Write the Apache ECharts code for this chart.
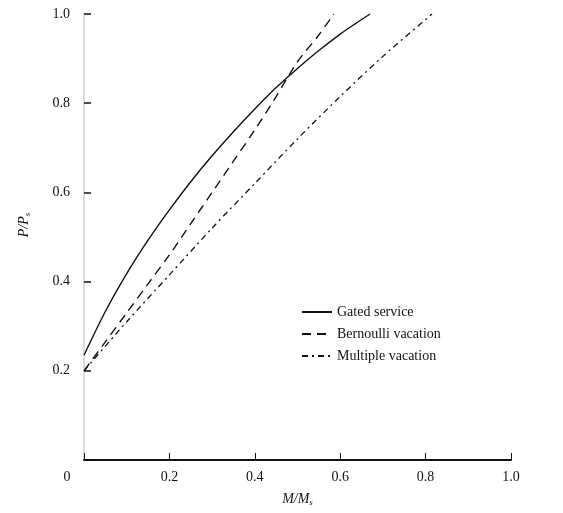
<!DOCTYPE html>
<html>
<head>
<meta charset="utf-8">
<script src="https://cdn.jsdelivr.net/npm/echarts@6/dist/echarts.min.js"></script>
<style>html,body{margin:0;padding:0;background:#fff}#c{width:563px;height:513px}</style>
</head>
<body>
<div id="c"></div>
<script>
var xTicks = [0, 0.2, 0.4, 0.6, 0.8, 1.0];
var yTicks = [0.2, 0.4, 0.6, 0.8, 1.0];
var seriesNames = ['Gated service', 'Bernoulli vacation', 'Multiple vacation'];
var gatedX = [0, 0.05, 0.1, 0.15, 0.2, 0.25, 0.3, 0.35, 0.4, 0.45, 0.5, 0.55, 0.6, 0.635, 0.67];
var gatedY = [0.235, 0.333, 0.418, 0.493, 0.561, 0.624, 0.682, 0.736, 0.787, 0.835, 0.878, 0.918, 0.955, 0.978, 1.0];
var bernX = [0, 0.05, 0.1, 0.15, 0.2, 0.25, 0.3, 0.35, 0.4, 0.45, 0.5, 0.55, 0.585];
var bernY = [0.2, 0.265, 0.33, 0.395, 0.46, 0.53, 0.6, 0.67, 0.74, 0.815, 0.893, 0.953, 1.0];
var multX = [0, 0.1, 0.2, 0.3, 0.4, 0.5, 0.6, 0.7, 0.815];
var multY = [0.2, 0.31, 0.415, 0.52, 0.62, 0.72, 0.815, 0.905, 1.0];

function pairs(xs, ys) { return xs.map(function (x, i) { return [x, ys[i]]; }); }
var font = '"Liberation Serif", "DejaVu Serif", serif';

var chart = echarts.init(document.getElementById('c'), null, {renderer: 'canvas'});
chart.setOption({
  animation: false,
  backgroundColor: '#fff',
  grid: {left: 84, right: 52, top: 14, bottom: 53},
  legend: {
    data: seriesNames,
    orient: 'vertical',
    left: 296, top: 300,
    itemWidth: 30, itemHeight: 10, itemGap: 8,
    itemStyle: {opacity: 0},
    textStyle: {fontFamily: font, fontSize: 14, color: '#111'}
  },
  xAxis: {
    type: 'value', min: 0, max: 1, interval: 0.2,
    name: 'M/M{s|s}', nameLocation: 'middle', nameGap: 32,
    nameTextStyle: {fontFamily: font, fontSize: 14, fontStyle: 'italic', color: '#111',
      rich: {s: {fontSize: 9, fontFamily: font, fontStyle: 'italic', verticalAlign: 'bottom', padding: [6, 0, 0, 0]}}},
    axisLine: {show: true, onZero: false, lineStyle: {color: '#111', width: 2}},
    axisTick: {show: true, inside: true, length: 7, lineStyle: {color: '#111', width: 1}},
    axisLabel: {
      fontFamily: font, fontSize: 14, color: '#111', margin: 10,
      formatter: function (v) { return v === 0 ? '{o|0}' : v.toFixed(1); },
      rich: {o: {fontFamily: font, fontSize: 14, color: '#111', padding: [0, 34, 0, 0]}}
    },
    splitLine: {show: false}
  },
  yAxis: {
    type: 'value', min: 0, max: 1, interval: 0.2,
    name: 'P/P{s|s}', nameLocation: 'middle', nameGap: 52, nameRotate: 90,
    nameTextStyle: {fontFamily: font, fontSize: 14, fontStyle: 'italic', color: '#111', padding: [0, 0, 0, 24],
      rich: {s: {fontSize: 9, fontFamily: font, fontStyle: 'italic', padding: [6, 0, 0, 0]}}},
    axisLine: {show: true, lineStyle: {color: '#d0d0d0', width: 1.5}},
    axisTick: {show: true, inside: true, length: 7, lineStyle: {color: '#111', width: 1.5}},
    axisLabel: {
      fontFamily: font, fontSize: 14, color: '#111', margin: 14,
      formatter: function (v) { return v === 0 ? '' : v.toFixed(1); }
    },
    splitLine: {show: false}
  },
  series: [
    {name: seriesNames[0], type: 'line', smooth: 0.3, symbol: 'none', data: pairs(gatedX, gatedY),
     lineStyle: {color: '#111', width: 1.4, type: 'solid'}, itemStyle: {color: '#111'}},
    {name: seriesNames[1], type: 'line', smooth: 0.3, symbol: 'none', data: pairs(bernX, bernY),
     lineStyle: {color: '#111', width: 1.4, type: [9, 6]}, itemStyle: {color: '#111'}},
    {name: seriesNames[2], type: 'line', smooth: 0.3, symbol: 'none', data: pairs(multX, multY),
     lineStyle: {color: '#111', width: 1.3, type: [6, 4, 2, 4]}, itemStyle: {color: '#111'}}
  ]
});
</script>
</body>
</html>
